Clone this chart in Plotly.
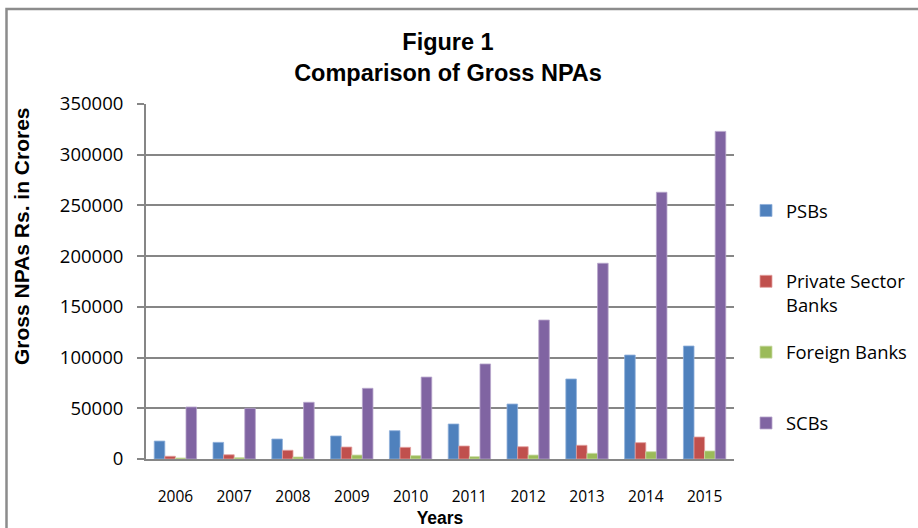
import plotly.graph_objects as go

years = ["2006", "2007", "2008", "2009", "2010", "2011", "2012", "2013", "2014", "2015"]
psbs = [17700, 16400, 19700, 22700, 27900, 34500, 54200, 78900, 102500, 111400]
private = [2700, 4200, 8600, 11800, 11500, 12800, 12100, 13500, 16100, 21700]
foreign = [1000, 1300, 2000, 3900, 3300, 2300, 3900, 5600, 7200, 7900]
scbs = [51300, 50000, 55900, 69700, 80800, 93700, 137000, 193000, 263000, 323000]
yticks = [0, 50000, 100000, 150000, 200000, 250000, 300000, 350000]

series = [
    ("PSBs<br> ", psbs, "#4F81BD", "#8FB0DA"),
    ("Private Sector<br>Banks", private, "#C0504D", "#E3A09E"),
    ("Foreign Banks<br> ", foreign, "#9BBB59", "#C9DBA4"),
    ("SCBs<br> ", scbs, "#8064A2", "#B7A6CC"),
]

W, H = 918, 528
L, R, T, B = 146, 734, 104, 459

fig = go.Figure()
for i, (name, vals, col, edge) in enumerate(series):
    fig.add_trace(go.Bar(
        x=years, y=vals, name=name, legendgroup=f"g{i}",
        marker=dict(color=col, line=dict(color=edge, width=0.8)),
    ))

def px_x(p):
    return (p - L) / (R - L)

def px_y(p):
    return (B - p) / (B - T)

fig.add_shape(type="rect", xref="paper", yref="paper",
              x0=px_x(6.5), x1=px_x(940), y0=px_y(9), y1=px_y(560),
              line=dict(color="#8C8C8C", width=2.5), fillcolor="rgba(0,0,0,0)", layer="below")

fig.add_annotation(text="<b>Gross NPAs Rs. in Crores</b>", textangle=-90,
                   xref="paper", yref="paper", x=px_x(22), y=px_y(236),
                   xanchor="center", yanchor="middle", showarrow=False,
                   font=dict(family="Liberation Sans, Arial", size=21, color="black"))

fig.update_layout(
    width=W, height=H,
    margin=dict(l=L, r=W - R, t=T, b=H - B, autoexpand=False),
    paper_bgcolor="white", plot_bgcolor="white",
    barmode="group", bargap=0.28, bargroupgap=0,
    title=dict(text="<b>Figure 1<br>Comparison of Gross NPAs</b>",
               x=448 / W, xref="container", xanchor="center",
               y=1 - 50 / H, yref="container", yanchor="middle",
               font=dict(family="Liberation Sans, Arial", size=23.5, color="black")),
    legend=dict(x=746 / W, xref="container", xanchor="left",
                y=1 - 192 / H, yref="container", yanchor="top",
                font=dict(family="Open Sans", size=18.4, color="black"),
                traceorder="grouped", tracegroupgap=20, valign="top",
                maxheight=520, bgcolor="rgba(0,0,0,0)"),
    xaxis=dict(type="category", showline=True, linecolor="#868686", linewidth=2,
               ticks="", showgrid=False, ticklabelstandoff=22,
               tickfont=dict(family="Open Sans", size=15.5, color="black"),
               title=dict(text="<b>Years</b>", standoff=10,
                          font=dict(family="Liberation Sans, Arial", size=17.5, color="black"))),
    yaxis=dict(range=[0, 350000], tickvals=yticks, ticktext=[str(v) for v in yticks],
               showline=True, linecolor="#868686", linewidth=2,
               ticks="outside", ticklen=7, tickcolor="#868686", tickwidth=2,
               showgrid=True, gridcolor="#868686", gridwidth=1.5, zeroline=False,
               ticklabelstandoff=10,
               tickfont=dict(family="Open Sans", size=18.5, color="black"),
               title=dict(text="")),
)

fig.write_html("out.html")
